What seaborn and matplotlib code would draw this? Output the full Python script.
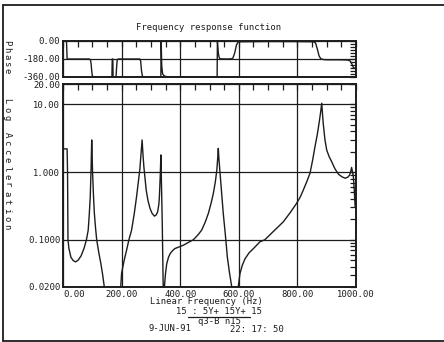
import matplotlib
matplotlib.use("Agg")
import matplotlib.pyplot as plt
import seaborn as sns
from matplotlib.lines import Line2D
from matplotlib.ticker import FixedLocator, LogLocator, MultipleLocator, NullFormatter

# Frequency response: log acceleration magnitude
mag_freq = [0, 14, 15.5, 17, 20, 27, 35, 43, 52, 62, 72, 80, 86, 90, 93, 96, 98,
            100, 101, 104, 107, 111, 115, 122, 129, 135, 141, 146, 170, 193, 197,
            200, 208, 217, 225, 234, 243, 251, 257, 262, 266, 270, 273, 276, 280,
            284, 290, 297, 304, 312, 318, 323, 327, 329, 332, 334, 335.5, 337, 339,
            341, 342, 344, 346, 350, 354, 360, 366, 374, 382, 395, 411, 428, 445,
            460, 473, 485, 496, 505, 513, 520, 525, 528, 530, 532, 536, 541, 547,
            554, 561, 568, 576, 585, 596, 598, 604, 612, 621, 635, 650, 672, 689,
            720, 752, 775, 797, 810, 820, 832, 843, 852, 860, 868, 874, 879, 883,
            886, 888, 894, 900, 908, 917, 928, 940, 952, 963, 972, 978, 982, 985,
            988, 991, 994, 997, 1000]
mag_value = [2.2, 2.2, 1.0, 0.1, 0.075, 0.055, 0.049, 0.047, 0.050, 0.058, 0.075,
             0.10, 0.138, 0.25, 0.43, 1.2, 2.98, 1.3, 0.97, 0.45, 0.247, 0.15, 0.10,
             0.065, 0.045, 0.031, 0.020, 0.012, 0.004, 0.015, 0.020, 0.032, 0.048,
             0.07, 0.10, 0.138, 0.24, 0.43, 0.7, 1.07, 1.8, 2.98, 1.8, 1.2, 0.8,
             0.54, 0.38, 0.29, 0.245, 0.223, 0.232, 0.258, 0.33, 0.43, 0.9, 1.79,
             0.9, 0.43, 0.15, 0.04, 0.02, 0.01, 0.02, 0.032, 0.044, 0.055, 0.0626,
             0.069, 0.074, 0.078, 0.083, 0.091, 0.10, 0.117, 0.138, 0.18, 0.244,
             0.34, 0.48, 0.72, 1.07, 1.6, 2.24, 1.6, 0.96, 0.5, 0.244, 0.12, 0.055,
             0.033, 0.020, 0.008, 0.015, 0.020, 0.0316, 0.042, 0.052, 0.064, 0.074,
             0.093, 0.10, 0.135, 0.184, 0.25, 0.343, 0.43, 0.54, 0.72, 0.96, 1.5,
             2.37, 3.6, 5.3, 7.5, 10.4, 7.0, 5.3, 3.0, 2.12, 1.7, 1.42, 1.12, 0.93,
             0.85, 0.81, 0.84, 0.90, 1.02, 1.17, 1.0, 0.85, 0.55, 0.31, 0.29]

# Phase, wrapped to [-360, 0]
phase_freq = [0, 12, 14, 90, 94, 96, 98, 100, 103, 108, 167, 168, 170, 171, 181,
              183, 185, 188, 262, 265, 268, 271, 275, 334, 335, 337, 340, 346, 356,
              366, 526, 527, 528, 530, 533, 536, 560, 575, 580, 586, 592, 598, 700,
              800, 855, 862, 868, 874, 880, 888, 900, 940, 972, 980, 986, 991, 1000]
phase_deg = [0, 0, -180, -180, -190, -230, -300, -345, -358, -360, -360, -180,
             -180, -360, -360, -260, -190, -180, -180, -200, -300, -350, -360, -360,
             0, -250, -330, -350, -358, -360, -360, 0, -40, -120, -165, -178, -180,
             -178, -170, -120, -40, -8, -5, -6, -8, -20, -80, -150, -178, -185,
             -188, -188, -190, -200, -230, -265, -280]

x_ticks = [0, 200, 400, 600, 800, 1000]
x_tick_labels = ["0.00", "200.00", "400.00", "600.00", "800.00", "1000.00"]
mag_ticks = [0.02, 0.1, 1, 10, 20]
mag_tick_labels = ["0.0200", "0.1000", "1.000", "10.00", "20.00"]
phase_ticks = [0, -180, -360]
phase_tick_labels = ["0.00", "-180.00", "-360.00"]

title = "Frequency response function"
x_label = "Linear Frequency (Hz)"
phase_label = "Phase"
mag_label = "Log Acceleration"
channel_text = "15 : 5Y+ 15Y+ 15"
run_text = "q3-B n15"
date_text = "9-JUN-91"
time_text = "22: 17: 50"

ink = "#1c1c1c"
fs = 6.4

sns.set_theme(style="white")
plt.rcParams["font.family"] = ["DejaVu Sans Mono", "DejaVu Sans"]
plt.rcParams["text.color"] = ink

W, H = 444, 342
fig = plt.figure(figsize=(W / 100, H / 100), dpi=100)
fig.patch.set_facecolor("white")


def fx(px):
    return px / W


def fy(py):
    return 1 - py / H


ax_p = fig.add_axes([fx(63), fy(77), fx(293), 36 / H])
ax_m = fig.add_axes([fx(63), fy(287), fx(293), 203 / H])

sns.lineplot(x=phase_freq, y=phase_deg, ax=ax_p, color=ink, linewidth=1.0,
             sort=False, estimator=None)
sns.lineplot(x=mag_freq, y=mag_value, ax=ax_m, color=ink, linewidth=1.0,
             sort=False, estimator=None)

ax_m.set_yscale("log")
ax_m.set_ylim(0.02, 20)
ax_p.set_ylim(-360, 0)

for ax in (ax_p, ax_m):
    ax.set_xlim(0, 1000)
    ax.set_facecolor("white")
    ax.xaxis.set_major_locator(FixedLocator(x_ticks))
    ax.xaxis.set_minor_locator(MultipleLocator(50))
    ax.grid(True, which="major", color=ink, linewidth=0.9)
    ax.tick_params(which="both", direction="in", top=True, right=True,
                   color=ink, labelsize=fs, labelcolor=ink, pad=2)
    ax.tick_params(which="major", length=4, width=0.9)
    ax.tick_params(which="minor", length=4, width=0.9)
    for s in ax.spines.values():
        s.set_visible(True)
        s.set_color(ink)
        s.set_linewidth(1.4)
    ax.set_xlabel("")
    ax.set_ylabel("")

ax_p.set_yticks(phase_ticks)
ax_p.set_yticklabels(phase_tick_labels)
ax_p.yaxis.set_minor_locator(MultipleLocator(30))
ax_p.set_xticklabels([])

ax_m.set_xticks(x_ticks)
ax_m.set_xticklabels(x_tick_labels)
ax_m.yaxis.set_major_locator(FixedLocator(mag_ticks))
ax_m.set_yticklabels(mag_tick_labels)
ax_m.yaxis.set_minor_locator(LogLocator(base=10, subs=range(2, 10)))
ax_m.yaxis.set_minor_formatter(NullFormatter())
ax_m.get_xticklabels()[0].set_horizontalalignment("left")

# Title and annotation block
fig.text(fx(209), fy(27.5), title, ha="center", va="center", fontsize=fs)
fig.text(fx(206), fy(302), x_label, ha="center", va="center", fontsize=fs)
fig.text(fx(219), fy(311.5), channel_text, ha="center", va="center", fontsize=fs)
fig.text(fx(219), fy(321), run_text, ha="center", va="center", fontsize=fs)
fig.text(fx(169.5), fy(328.5), date_text, ha="center", va="center", fontsize=fs)
fig.text(fx(257), fy(330), time_text, ha="center", va="center", fontsize=fs)
fig.add_artist(Line2D([fx(188), fx(250)], [fy(316.5), fy(316.5)],
                      transform=fig.transFigure, color=ink, linewidth=0.9))

# Vertical axis titles, one glyph per step
for i, ch in enumerate(phase_label):
    fig.text(fx(6.5), fy(43 + i * 7), ch, rotation=270, ha="center",
             va="center", fontsize=fs)
for i, ch in enumerate(mag_label):
    fig.text(fx(7), fy(101 + i * 8.4), ch, rotation=270, ha="center",
             va="center", fontsize=fs)

# Page border
border = dict(transform=fig.transFigure, color=ink, linewidth=1.3)
fig.add_artist(Line2D([fx(3), fx(3)], [fy(5), fy(340.5)], **border))
fig.add_artist(Line2D([fx(3), fx(444)], [fy(5), fy(5)], **border))
fig.add_artist(Line2D([fx(3), fx(444)], [fy(340.5), fy(340.5)], **border))

fig.savefig("out.png", dpi=100, facecolor="white")
